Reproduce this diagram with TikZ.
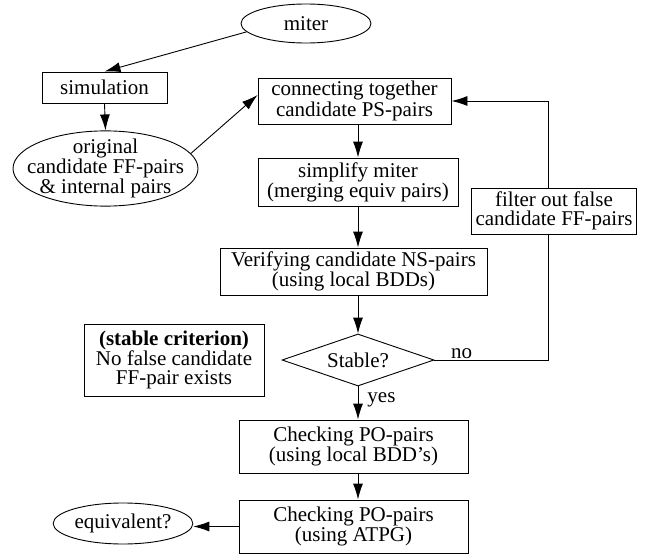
\documentclass[tikz,border=0pt]{standalone}
\usepackage{fontspec}
\setmainfont{Liberation Serif}
\usetikzlibrary{shapes.geometric,arrows.meta,calc,positioning}

\begin{document}
\begin{tikzpicture}[x=1pt,y=-1pt,-,auto,line width=0.9pt,
                    every node/.style={font=\fontsize{21}{19}\selectfont,align=center,inner sep=1pt},
                    box node/.style={rectangle,draw},
                    oval node/.style={ellipse,draw},
                    test node/.style={diamond,draw,aspect=3,inner sep=0pt},
                    flow/.style={-{Latex[length=16pt,width=10pt]}}]
\useasboundingbox (0,0) rectangle (657,554);
%left column
  \node[oval node,minimum width=130pt,minimum height=39pt] (miter) at (306,23.5) {miter};
  \node[box node,minimum width=125pt,minimum height=31pt] (sim) at (104.5,87.5) {simulation};
  \node[oval node,inner xsep=-14pt,inner ysep=-3pt,minimum width=185pt,minimum height=73pt] (orig) at (105.5,168.5) {original\\candidate FF-pairs\\\& internal pairs};
%main column
  \node[box node,minimum width=193pt,minimum height=46pt] (connect) at (354.5,101) {connecting together\\candidate PS-pairs};
  \node[box node,minimum width=200pt,minimum height=48pt] (simplify) at (358,182) {simplify miter\\(merging equiv pairs)};
  \node[box node,minimum width=267pt,minimum height=47pt] (verify) at (353.5,271.5) {Verifying candidate NS-pairs\\(using local BDDs)};
  \node[test node,minimum width=152pt,minimum height=52pt] (stable) at (358,360) {Stable?};
  \node[box node,minimum width=229pt,minimum height=53pt] (chkbdd) at (353.5,446.5) {Checking PO-pairs\\(using local BDD's)};
  \node[box node,minimum width=229pt,minimum height=53pt] (chkatpg) at (353.5,526.5) {Checking PO-pairs\\(using ATPG)};
%side nodes
  \node[box node,minimum width=165pt,minimum height=46pt] (filter) at (554,211) {filter out false\\candidate FF-pairs};
  \node[box node,minimum width=180pt,minimum height=72pt] (crit) at (174,360) {\textbf{(stable criterion)}\\No false candidate\\FF-pair exists};
  \node[oval node,minimum width=130pt,minimum height=41pt] (equiv) at (123,523.5) {equivalent?};

  \draw[flow] (miter.188) -- (sim.north);
  \draw[flow] (sim.south) -- (orig.north);
  \draw[flow] (orig.10) -- ([yshift=6pt]connect.west);
  \draw[flow] (simplify.north |- connect.south) -- (simplify.north);
  \draw[flow] (simplify.south) -- (simplify.south |- verify.north);
  \draw[flow] (stable.north |- verify.south) -- (stable.north);
  \draw[flow] (stable.south) -- node[right,pos=0.4,xshift=8pt] {yes} (stable.south |- chkbdd.north);
  \draw[flow] (stable.south |- chkbdd.south) -- (stable.south |- chkatpg.north);
  \draw[flow] (chkatpg.west) -- (chkatpg.west -| equiv.east);
  \draw (stable.east) -| node[above,pos=0.12] {no} ([xshift=-6pt]filter.south);
  \draw[flow] ([xshift=-6pt]filter.north) |- (connect.east);

\end{tikzpicture}
\end{document}
